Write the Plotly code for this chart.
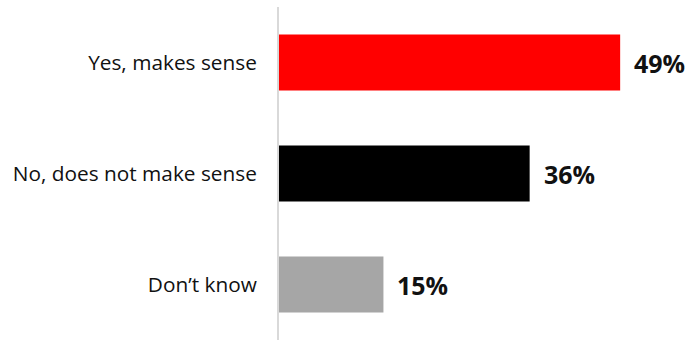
import plotly.graph_objects as go

# Survey responses, top to bottom
categories = ["Yes, makes sense", "No, does not make sense", "Don’t know"]
shares = [49, 36, 15]
bar_colors = ["#ff0000", "#000000", "#a6a6a6"]
value_labels = [f"{v}%" for v in shares]

fig = go.Figure(
    go.Bar(
        x=shares,
        y=categories,
        orientation="h",
        marker=dict(color=bar_colors, line=dict(width=0)),
        width=0.505,
        hoverinfo="skip",
    )
)

# Bold percentage labels just right of each bar
for cat, val, lab in zip(categories, shares, value_labels):
    fig.add_annotation(
        x=val, y=cat, text=f"<b>{lab}</b>",
        xanchor="left", yanchor="middle", xshift=12, showarrow=False,
        font=dict(family="Open Sans", size=25, color="#111111"),
    )

fig.update_layout(
    width=687, height=340,
    margin=dict(l=279, r=0, t=7, b=0),
    paper_bgcolor="white", plot_bgcolor="white",
    showlegend=False,
    xaxis=dict(range=[0, 58.6], visible=False, fixedrange=True),
    yaxis=dict(
        autorange="reversed",
        showgrid=False, zeroline=False,
        showline=True, linecolor="#d9d9d9", linewidth=2,
        ticks="", ticklabelstandoff=16,
        tickfont=dict(family="Open Sans", size=20.8, color="#111111"),
        fixedrange=True,
    ),
)

fig.write_html("out.html")
